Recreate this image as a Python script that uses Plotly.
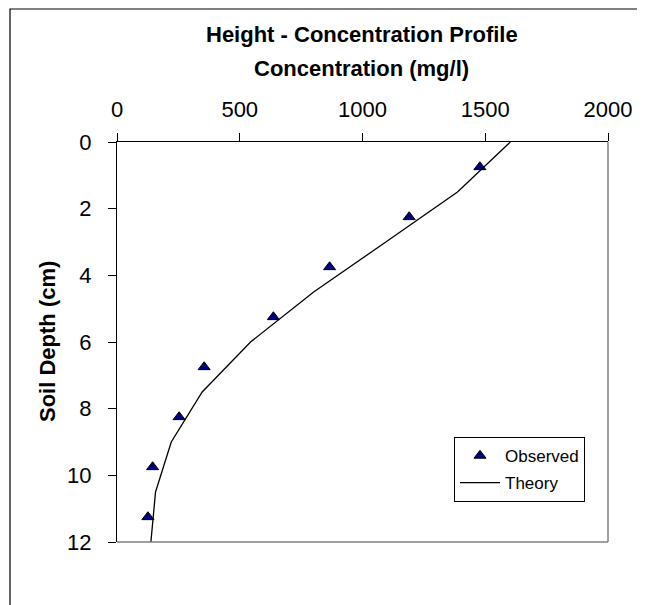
import plotly.graph_objects as go

# Observed data
obs_conc = [1478, 1190, 866, 637, 355, 253, 145, 126]
obs_depth = [0.75, 2.25, 3.75, 5.25, 6.75, 8.25, 9.75, 11.25]

# Theory curve
th_conc = [1602, 1387, 1095, 801, 544, 347, 221, 157, 138]
th_depth = [0, 1.5, 3, 4.5, 6, 7.5, 9, 10.5, 12]

x_ticks = [0, 500, 1000, 1500, 2000]
y_ticks = [0, 2, 4, 6, 8, 10, 12]

FONT = "Liberation Sans, Arial, sans-serif"

fig = go.Figure()
fig.add_trace(go.Scatter(
    x=obs_conc, y=obs_depth, mode="markers", name="Observed",
    legendgroup="obs",
    marker=dict(symbol="triangle-up", size=10.5, color="#000080",
                line=dict(color="black", width=1)),
))
fig.add_trace(go.Scatter(
    x=th_conc, y=th_depth, mode="lines", name="Theory",
    legendgroup="th",
    line=dict(color="black", width=1.3),
))

# page offset of the figure (body margin)
OFF = 8
W, H = 637, 597
# plot area in page pixels
PL, PT, PR, PB = 117, 142, 608, 542
L, T = PL - OFF, PT - OFF
R, B = W - (PR - OFF), H - (PB - OFF)
pw, ph = PR - PL, PB - PT

def px(x):
    return (x - PL) / pw

def py(y):
    return (PB - y) / ph

fig.update_layout(
    width=W, height=H,
    margin=dict(l=L, r=R, t=T, b=B),
    paper_bgcolor="white", plot_bgcolor="white",
    font=dict(family=FONT, color="black", size=22),
    showlegend=True,
    legend=dict(
        x=px(454), y=py(437), xanchor="left", yanchor="top",
        bordercolor="black", borderwidth=1, bgcolor="white",
        font=dict(size=17, family=FONT),
        traceorder="grouped", tracegroupgap=2, itemwidth=40,
    ),
    xaxis=dict(
        side="top", range=[0, 2000], tickvals=x_ticks,
        ticks="outside", ticklen=8, tickcolor="black",
        showline=True, linecolor="black", linewidth=1,
        showgrid=False, zeroline=False,
        tickfont=dict(size=22), ticklabelstandoff=7,
    ),
    yaxis=dict(
        range=[12, 0], tickvals=y_ticks,
        ticks="outside", ticklen=8, tickcolor="black",
        showline=True, linecolor="black", linewidth=1,
        showgrid=False, zeroline=False,
        tickfont=dict(size=22), ticklabelstandoff=12,
    ),
    shapes=[
        # gray right & bottom plot border
        dict(type="line", xref="paper", yref="paper", x0=1, x1=1, y0=0, y1=1,
             line=dict(color="#808080", width=1.5)),
        dict(type="line", xref="paper", yref="paper", x0=0, x1=1, y0=0, y1=0,
             line=dict(color="#808080", width=1.5)),
        # outer chart frame (cut off at right/bottom)
        dict(type="rect", xref="paper", yref="paper",
             x0=px(10), x1=px(700), y0=py(660), y1=py(9),
             line=dict(color="black", width=1.2), layer="below"),
    ],
    annotations=[
        dict(text="<b>Height - Concentration Profile</b>", xref="paper", yref="paper",
             x=px(361.5), y=py(34), xanchor="center", yanchor="middle",
             showarrow=False, font=dict(size=22, family=FONT)),
        dict(text="<b>Concentration (mg/l)</b>", xref="paper", yref="paper",
             x=px(361.5), y=py(69), xanchor="center", yanchor="middle",
             showarrow=False, font=dict(size=22, family=FONT)),
        dict(text="<b>Soil Depth (cm)</b>", xref="paper", yref="paper",
             x=px(47), y=py(342), xanchor="center", yanchor="middle",
             textangle=-90, showarrow=False,
             font=dict(size=22, family=FONT)),
    ],
)

fig.write_html("out.html")
